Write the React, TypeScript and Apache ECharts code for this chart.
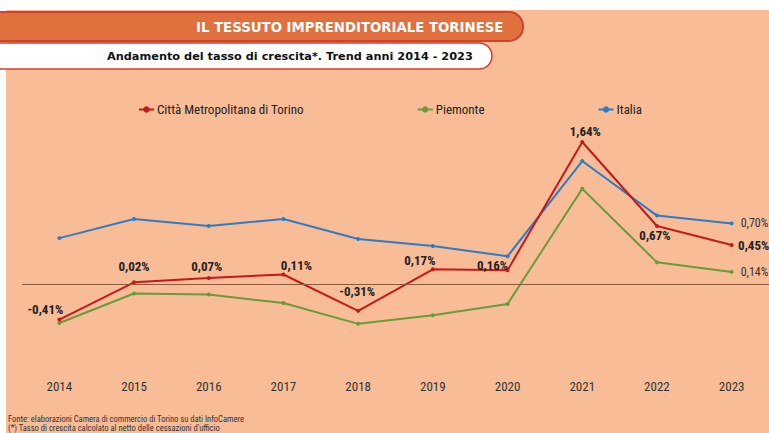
import React, { useEffect, useRef } from "react";
import * as echarts from "echarts";

const years = ["2014", "2015", "2016", "2017", "2018", "2019", "2020", "2021", "2022", "2023"];
const torino = [-0.41, 0.02, 0.07, 0.11, -0.31, 0.17, 0.16, 1.64, 0.67, 0.45];
const piemonte = [-0.45, -0.11, -0.12, -0.22, -0.46, -0.36, -0.23, 1.1, 0.25, 0.14];
const italia = [0.53, 0.75, 0.67, 0.75, 0.52, 0.44, 0.32, 1.42, 0.79, 0.7];
const seriesNames = ["Città Metropolitana di Torino", "Piemonte", "Italia"];
const titleText = "IL TESSUTO IMPRENDITORIALE TORINESE";
const subtitleText = "Andamento del tasso di crescita*. Trend anni 2014 - 2023";
const sourceText = "Fonte: elaborazioni Camera di commercio di Torino su dati InfoCamere";
const noteText = "(*) Tasso di crescita calcolato al netto delle cessazioni d'ufficio";

// label offsets (style only) for the Torino series labels
const torinoLabelOffsets: [number, number][] = [
  [-14, -10], [0, -16], [-2, -11], [13, -9], [-1, -19],
  [-13, -9], [-15, -5], [3, -10], [-2, 10], [22, 0],
];

const FONT = '"Liberation Sans Narrow", "Roboto Condensed", Carlito, Roboto, sans-serif';
const VFONT = '"DejaVu Sans", Verdana, sans-serif';
const fmt = (v: number) => v.toFixed(2).replace(".", ",") + "%";

const RED = "#C41A1C";
const GREEN = "#6A9A3E";
const BLUE = "#2F7CC6";
const PEACH = "#F8BD97";

export default function App() {
  const ref = useRef<HTMLDivElement>(null);
  useEffect(() => {
    if (!ref.current) return;
    const chart = echarts.init(ref.current, undefined, { renderer: "svg" });
    const last = years.length - 1;
    chart.setOption({
      animation: false,
      backgroundColor: "#ffffff",
      graphic: [
        { type: "rect", z: -10, shape: { x: 6, y: 10, width: 780, height: 440 }, style: { fill: PEACH } },
        {
          type: "rect", z: 1,
          shape: { x: -10, y: 12, width: 533, height: 29, r: [0, 14, 14, 0] },
          style: { fill: "#E1703F", stroke: "#D3402C", lineWidth: 2 },
        },
        {
          type: "rect", z: 1,
          shape: { x: -10, y: 43, width: 502, height: 26, r: [0, 13, 13, 0] },
          style: { fill: "#ffffff", stroke: "#D3402C", lineWidth: 1.5 },
        },
        {
          type: "text", z: 2, x: 196, y: 27,
          style: { text: titleText, fill: "#ffffff", font: `bold 13.3px ${VFONT}`, align: "left", verticalAlign: "middle" },
        },
        {
          type: "text", z: 2, x: 107, y: 56,
          style: { text: subtitleText, fill: "#111111", font: `bold 11.3px ${VFONT}`, align: "left", verticalAlign: "middle" },
        },
        {
          type: "text", z: 2, x: 8, y: 419,
          style: { text: sourceText, fill: "#333333", font: `8.5px ${FONT}`, verticalAlign: "middle" },
        },
        {
          type: "text", z: 2, x: 8, y: 428,
          style: { text: noteText, fill: "#333333", font: `8.5px ${FONT}`, verticalAlign: "middle" },
        },
      ],
      legend: {
        data: seriesNames,
        left: 133,
        top: 98,
        itemGap: 113,
        itemWidth: 15,
        itemHeight: 8,
        textStyle: { fontFamily: FONT, fontSize: 13, color: "#222222", padding: [0, 0, 0, -2] },
      },
      grid: { left: 22, right: 0, top: 110.8, bottom: 79.7 },
      xAxis: {
        type: "category",
        data: years,
        boundaryGap: true,
        axisLine: { show: false },
        axisTick: { show: false },
        axisLabel: { margin: 27, fontFamily: FONT, fontSize: 13, color: "#333333" },
      },
      yAxis: {
        type: "value",
        min: -0.8,
        max: 2.0,
        show: false,
        splitLine: { show: false },
      },
      series: [
        {
          name: seriesNames[0],
          type: "line",
          data: torino.map((v, i) => ({
            value: v,
            label: {
              show: true,
              position: "inside",
              offset: torinoLabelOffsets[i],
              formatter: () => fmt(v),
              fontFamily: FONT,
              fontWeight: "bold",
              fontSize: 13,
              color: "#222222",
            },
          })),
          symbol: "circle",
          symbolSize: 4,
          lineStyle: { color: RED, width: 2 },
          itemStyle: { color: RED },
          z: 4,
          markLine: {
            silent: true,
            symbol: "none",
            label: { show: false },
            lineStyle: { color: "#8A5A3A", width: 1, type: "solid" },
            data: [{ yAxis: 0 }],
          },
        },
        {
          name: seriesNames[1],
          type: "line",
          data: piemonte.map((v, i) => ({
            value: v,
            label: {
              show: i === last,
              position: "right",
              distance: 7,
              formatter: () => fmt(v),
              fontFamily: FONT,
              fontSize: 12,
              color: "#333333",
            },
          })),
          symbol: "circle",
          symbolSize: 4,
          lineStyle: { color: GREEN, width: 2 },
          itemStyle: { color: GREEN },
          z: 3,
        },
        {
          name: seriesNames[2],
          type: "line",
          data: italia.map((v, i) => ({
            value: v,
            label: {
              show: i === last,
              position: "right",
              distance: 7,
              formatter: () => fmt(v),
              fontFamily: FONT,
              fontSize: 12,
              color: "#333333",
            },
          })),
          symbol: "circle",
          symbolSize: 4,
          lineStyle: { color: BLUE, width: 2 },
          itemStyle: { color: BLUE },
          z: 3,
        },
      ],
    });
    return () => chart.dispose();
  }, []);
  return (
    <div
      ref={ref}
      style={{ position: "fixed", left: 0, top: 0, width: 769, height: 433 }}
    />
  );
}
